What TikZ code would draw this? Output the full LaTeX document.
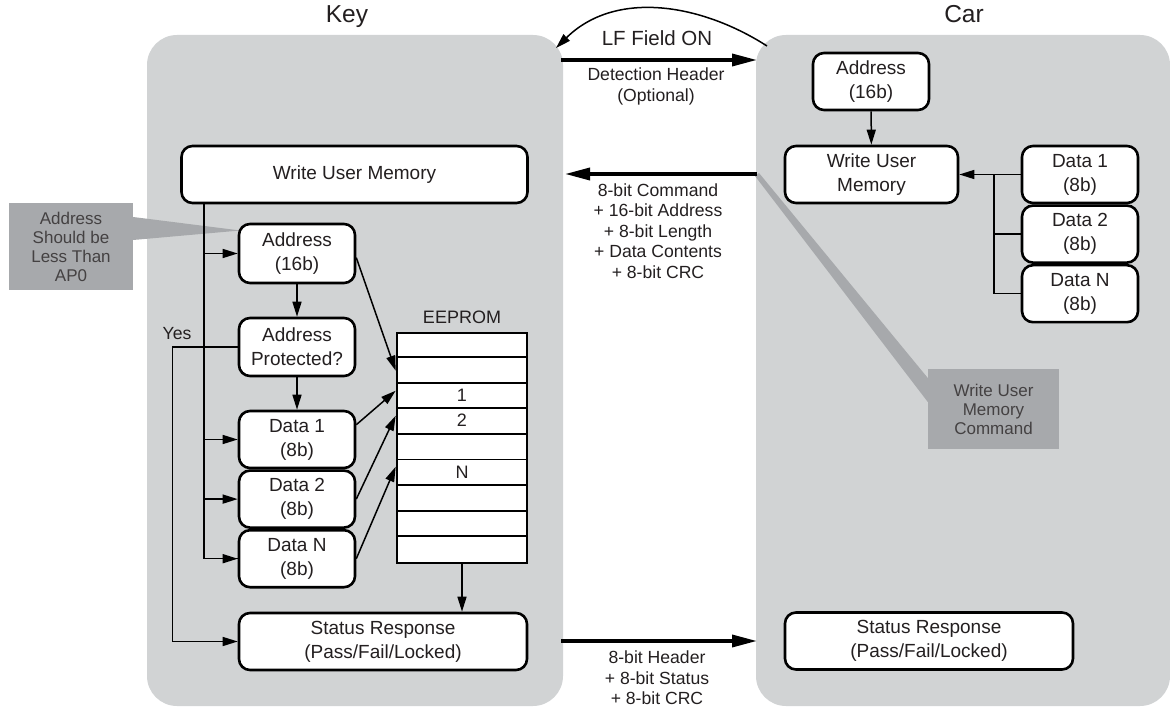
\documentclass[tikz,border=0pt]{standalone}
\usepackage{fontspec}
\setmainfont{Liberation Sans}
\usetikzlibrary{positioning,arrows.meta,calc}

\definecolor{panelgray}{HTML}{D1D3D4}
\definecolor{callgray}{HTML}{A7A9AC}
\definecolor{ink}{HTML}{231F20}

\begin{document}
\begin{tikzpicture}[x=1pt,y=-1pt,>={Triangle[length=15pt,width=9pt]},
  box/.style={draw,line width=2.6pt,rounded corners=11pt,fill=white,align=center,text=ink,inner sep=0pt,
    minimum width=116pt,minimum height=57pt,font=\fontsize{19}{24}\selectfont},
  panel/.style={fill=panelgray,rounded corners=30pt,inner sep=0pt},
  callout/.style={fill=callgray,align=center,inner sep=0pt,text=ink!85,font=\fontsize{17}{19}\selectfont},
  link/.style={line width=1.5pt,->},
  bus/.style={line width=1.5pt},
  fat/.style={line width=3.5pt,-{Triangle[length=25pt,width=12pt]}},
  lbl/.style={align=center,text=ink,font=\fontsize{17.6}{20.5}\selectfont},
  cell/.style={text=ink,font=\fontsize{18}{22}\selectfont},
  title/.style={text=ink,font=\fontsize{24.5}{28}\selectfont}]
\useasboundingbox (0,0) rectangle (1170,708);

\node (kpanel) [panel,minimum width=416pt,minimum height=671pt] at (355,370.5) {};
\node (cpanel) [panel,minimum width=414pt,minimum height=671pt] at (963,370.5) {};
\node (ktitle) [title,anchor=base] at (347,23) {Key};
\node (ctitle) [title,anchor=base] at (964,23) {Car};

\node (kcall) [callout,minimum width=124pt,minimum height=87pt] at (71,246.5) {Address\\Should be\\Less Than\\AP0};
\fill[callgray] ($(kcall.east)+(0,-29.5)$) -- ($(kcall.east)+(107,-16)$) -- ($(kcall.east)+(0,-6.5)$) -- cycle;
\node (ccall) [callout,minimum width=131pt,minimum height=80pt] at (993.5,409) {Write User\\Memory\\Command};
\fill[callgray] (755,176) -- (759,173) -- ($(ccall.west)+(0,-31)$) -- ($(ccall.west)+(0,-7)$) -- cycle;

\node (kwum) [box,minimum width=346pt] at (354.5,174.5) {Write User Memory};
\node (kaddr) [box,minimum height=59pt] at (297,253.5) {Address\\(16b)};
\node (kprot) [box,minimum height=58pt] at (297,347) {Address\\Protected?};
\node (kd1) [box] at (297,439.5) {Data 1\\(8b)};
\node (kd2) [box,below=0pt of kd1] {Data 2\\(8b)};
\node (kdn) [box,below=0pt of kd2] {Data N\\(8b)};
\node (kstat) [box,minimum width=288pt] at (383,641.5) {Status Response\\(Pass/Fail/Locked)};

\node (eep) [draw,line width=2.6pt,fill=white,minimum width=130pt,minimum height=230pt,inner sep=0pt] at (462,448) {};
\foreach \r in {1,...,8}
  \draw[line width=1.8pt] ($(eep.north west)+(1,\r*25.56)$) -- ($(eep.north east)+(-1,\r*25.56)$);
\node (eeplbl) [cell,anchor=base] at (462,324) {EEPROM};
\node (e1) [cell] at (462,395) {1};
\node (e2) [cell] at (462,420) {2};
\node (en) [cell] at (462,472) {N};

\coordinate (kbus) at (204,203);
\draw[bus] (kbus) |- (kdn);
\draw[link] (kbus) |- (kaddr);
\draw[link] (kbus) |- (kd1);
\draw[link] (kbus) |- (kd2);
\draw[link] (kbus) |- (kdn);
\draw[link] (kaddr) -- (kprot);
\draw[link] (kprot) -- (kd1);
\draw[link] (kprot.west) -- ++(-65,0) |- (kstat);
\node (yes) [lbl,anchor=base] at (177,340) {Yes};
\draw[link] (kaddr.-4) -- ($(eep.north west)+(0,39)$);
\draw[link] (kd1.14) -- ($(eep.north west)+(0,59)$);
\draw[link] (kd2.east) -- ($(eep.north west)+(0,84)$);
\draw[link] (kdn.east) -- ($(eep.north west)+(0,135)$);
\draw[link] (eep.south) -- (eep.south |- kstat.north);

\node (caddr) [box] at (871,81.5) {Address\\(16b)};
\node (cwum) [box,minimum width=173pt] at (871.5,174.5) {Write User\\Memory};
\node (cd1) [box] at (1080,174.5) {Data 1\\(8b)};
\node (cd2) [box,below=0pt of cd1] {Data 2\\(8b)};
\node (cdn) [box,below=0pt of cd2] {Data N\\(8b)};
\node (cstat) [box,minimum width=288pt] at (929,641) {Status Response\\(Pass/Fail/Locked)};

\coordinate (cbus) at (994,174.5);
\draw[link] (caddr) -- (cwum);
\draw[link] (cd1) -- (cwum);
\draw[bus] (cd2) -| (cbus);
\draw[bus] (cdn) -| (cbus);

\coordinate (lfa) at (767,46);
\coordinate (lfb) at (556,48);
\draw[link] (lfa) .. controls (700,3) and (615,-10) .. (lfb);
\node (lf) [lbl,font=\fontsize{20.5}{24}\selectfont] at (657,38.5) {LF Field ON};

\coordinate (dets) at (561,60);
\coordinate (dete) at (757,60);
\draw[fat] (dets) -- (dete);
\node (det) [lbl] at (656,86.5) {Detection Header\\(Optional)};

\coordinate (cmds) at (757,174);
\coordinate (cmde) at (565,174);
\draw[fat] (cmds) -- (cmde);
\node (cmd) [lbl] at (658,231) {8-bit Command\\+ 16-bit Address\\+ 8-bit Length\\+ Data Contents\\+ 8-bit CRC};

\coordinate (stas) at (561,641);
\coordinate (stae) at (757,641);
\draw[fat] (stas) -- (stae);
\node (sta) [lbl] at (657,678) {8-bit Header\\+ 8-bit Status\\+ 8-bit CRC};
\end{tikzpicture}
\end{document}
